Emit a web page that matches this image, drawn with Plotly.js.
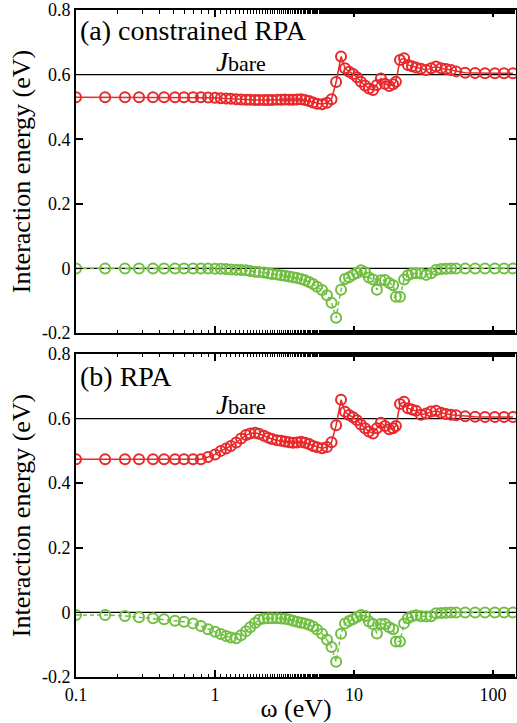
<!DOCTYPE html>
<html>
<head>
<meta charset="utf-8">
<script src="https://cdn.plot.ly/plotly-3.0.1.min.js"></script>
<style>html,body{margin:0;padding:0;background:#fff;}#chart{width:517px;height:723px;}</style>
</head>
<body>
<div id="chart"></div>
<script>
// Frequency grid (eV)
const omega = [0.1, 0.162, 0.225, 0.284, 0.358, 0.43, 0.515, 0.598, 0.695, 0.791,
  0.891, 1.0, 1.10, 1.20, 1.30, 1.42, 1.54, 1.67, 1.79, 1.94,
  2.07, 2.25, 2.41, 2.57, 2.79, 2.99, 3.19, 3.41, 3.64, 3.89,
  4.16, 4.44, 4.75, 5.07, 5.42, 5.89, 6.39, 6.89, 7.43, 8.06,
  8.61, 9.20, 9.84, 10.5, 11.2, 12.0, 12.8, 13.7, 14.6, 15.6,
  16.7, 17.9, 19.1, 20.0, 21.4, 22.9, 24.4, 26.1, 27.9, 30.3,
  33.0, 35.8, 38.9, 42.3, 45.9, 49.9, 54.2, 63.0, 74.3, 87.5,
  103, 120, 139];

// (a) constrained RPA
const redA = [0.530, 0.530, 0.530, 0.530, 0.530, 0.530, 0.530, 0.530, 0.530, 0.530,
  0.529, 0.528, 0.527, 0.526, 0.525, 0.524, 0.523, 0.522, 0.522, 0.521,
  0.521, 0.521, 0.521, 0.521, 0.522, 0.522, 0.523, 0.522, 0.522, 0.523,
  0.524, 0.521, 0.518, 0.514, 0.510, 0.508, 0.513, 0.524, 0.577, 0.656,
  0.620, 0.609, 0.602, 0.592, 0.578, 0.566, 0.557, 0.552, 0.568, 0.588,
  0.572, 0.565, 0.570, 0.578, 0.645, 0.651, 0.630, 0.626, 0.622, 0.618,
  0.614, 0.620, 0.625, 0.620, 0.617, 0.614, 0.610, 0.606, 0.605, 0.604,
  0.604, 0.604, 0.604];
const greenA = [0, 0, 0, 0, 0, 0, 0, 0, 0, 0,
  0, -0.001, -0.001, -0.002, -0.003, -0.004, -0.005, -0.006, -0.008, -0.010,
  -0.011, -0.013, -0.015, -0.017, -0.019, -0.021, -0.023, -0.025, -0.027, -0.030,
  -0.033, -0.037, -0.042, -0.048, -0.057, -0.067, -0.083, -0.106, -0.153, -0.066,
  -0.033, -0.027, -0.020, -0.014, -0.006, -0.012, -0.028, -0.034, -0.066, -0.037,
  -0.036, -0.045, -0.052, -0.088, -0.088, -0.034, -0.021, -0.016, -0.015, -0.016,
  -0.020, -0.015, -0.005, -0.002, -0.001, 0, 0, 0, 0, 0,
  0, 0, 0];

// (b) RPA
const redB = [0.474, 0.474, 0.474, 0.474, 0.474, 0.474, 0.474, 0.474, 0.474, 0.474,
  0.481, 0.489, 0.500, 0.507, 0.515, 0.526, 0.538, 0.549, 0.554, 0.556,
  0.553, 0.547, 0.541, 0.537, 0.533, 0.531, 0.529, 0.527, 0.525, 0.526,
  0.528, 0.525, 0.521, 0.515, 0.511, 0.508, 0.512, 0.527, 0.579, 0.658,
  0.621, 0.611, 0.604, 0.595, 0.582, 0.570, 0.560, 0.554, 0.570, 0.587,
  0.577, 0.567, 0.570, 0.577, 0.645, 0.652, 0.632, 0.628, 0.624, 0.612,
  0.616, 0.622, 0.624, 0.618, 0.614, 0.612, 0.610, 0.607, 0.606, 0.605,
  0.605, 0.605, 0.605];
const greenB = [-0.008, -0.008, -0.011, -0.015, -0.018, -0.021, -0.026, -0.029, -0.034, -0.042,
  -0.052, -0.060, -0.067, -0.073, -0.078, -0.080, -0.071, -0.058, -0.046, -0.033,
  -0.023, -0.019, -0.018, -0.018, -0.018, -0.019, -0.020, -0.022, -0.026, -0.029,
  -0.032, -0.034, -0.038, -0.044, -0.053, -0.066, -0.085, -0.107, -0.153, -0.066,
  -0.034, -0.027, -0.021, -0.014, -0.008, -0.011, -0.028, -0.036, -0.065, -0.036,
  -0.036, -0.046, -0.052, -0.090, -0.090, -0.034, -0.018, -0.012, -0.009, -0.012,
  -0.013, -0.012, -0.003, -0.002, -0.001, 0, 0, 0, 0, 0,
  0, 0, 0];

const Jbare = 0.6;
const xTickVals = [0.1, 1, 10, 100];
const xTickText = ['0.1', '1', '10', '100'];
const yTickVals = [-0.2, 0, 0.2, 0.4, 0.6, 0.8];
const yTickText = ['-0.2', '0', '0.2', '0.4', '0.6', '0.8'];
const panelLabels = ['(a) constrained RPA', '(b) RPA'];

const RED = '#e8282b';
const GREEN = '#70bf41';
const FONT = 'Liberation Serif';

function series(y, color, dash, xa, ya) {
  return {
    x: omega, y: y, xaxis: xa, yaxis: ya, type: 'scatter', mode: 'lines+markers',
    line: {color: color, width: 1.5, dash: dash},
    marker: {symbol: 'circle-open', size: 10, color: color, line: {width: 2, color: color}},
    showlegend: false, cliponaxis: true
  };
}

const data = [
  series(redA, RED, 'solid', 'x', 'y'),
  series(greenA, GREEN, '4px,3px', 'x', 'y'),
  series(redB, RED, 'solid', 'x2', 'y2'),
  series(greenB, GREEN, '4px,3px', 'x2', 'y2')
];

function xAxis(showLabels, anchor, title) {
  const ax = {
    type: 'log', range: [-1, 2.165], anchor: anchor,
    tickvals: xTickVals, ticktext: xTickText, showticklabels: showLabels,
    ticks: 'inside', ticklen: 7, tickwidth: 1.5, tickcolor: '#000',
    minor: {ticks: 'inside', ticklen: 3.5, tickwidth: 1, tickcolor: '#000', showgrid: false},
    showline: true, linecolor: '#000', linewidth: 2, mirror: 'ticks',
    showgrid: false, zeroline: false,
    tickfont: {family: FONT, size: 18, color: '#000'}
  };
  if (title) ax.title = {text: title, font: {family: FONT, size: 26, color: '#000'}, standoff: 2};
  return ax;
}
function yAxis(domain, anchor) {
  return {
    range: [-0.2, 0.8], domain: domain, anchor: anchor,
    tickvals: yTickVals, ticktext: yTickText,
    ticks: 'inside', ticklen: 7, tickwidth: 1.5, tickcolor: '#000',
    showline: true, linecolor: '#000', linewidth: 2, mirror: 'ticks',
    showgrid: false, zeroline: false,
    tickfont: {family: FONT, size: 18, color: '#000'},
    title: {text: 'Interaction energy (eV)', font: {family: FONT, size: 26, color: '#000'}, standoff: 4}
  };
}

function hline(yval, yref) {
  return {type: 'line', xref: 'paper', x0: 0, x1: 1, yref: yref, y0: yval, y1: yval,
    line: {color: '#000', width: 1.2}, layer: 'below'};
}

function label(text, yref, yfrac, size) {
  return {text: text, xref: 'paper', yref: yref + ' domain', x: 0.005, y: yfrac,
    xanchor: 'left', yanchor: 'middle', showarrow: false,
    font: {family: FONT, size: size, color: '#000'}};
}
function jlabel(yref, yval) {
  return {text: '<i>J</i><span style="font-size:22px">bare</span>', xref: 'paper', yref: yref,
    x: 0.313, y: yval, xanchor: 'left', yanchor: 'middle', showarrow: false,
    font: {family: FONT, size: 27, color: '#000'}};
}

const layout = {
  width: 517, height: 723,
  margin: {l: 76, r: 1, t: 10, b: 46},
  paper_bgcolor: '#fff', plot_bgcolor: '#fff',
  font: {family: FONT, color: '#000'},
  xaxis: xAxis(false, 'y', null),
  yaxis: yAxis([0.5157, 1], 'x'),
  xaxis2: xAxis(true, 'y2', 'ω (eV)'),
  yaxis2: yAxis([0, 0.4843], 'x2'),
  shapes: [hline(Jbare, 'y'), hline(0, 'y'), hline(Jbare, 'y2'), hline(0, 'y2')],
  annotations: [
    label(panelLabels[0], 'y', 0.935, 28), label(panelLabels[1], 'y2', 0.929, 28),
    jlabel('y', 0.64), jlabel('y2', 0.642)
  ]
};

Plotly.newPlot('chart', data, layout, {displayModeBar: false, staticPlot: true});
</script>
</body>
</html>
